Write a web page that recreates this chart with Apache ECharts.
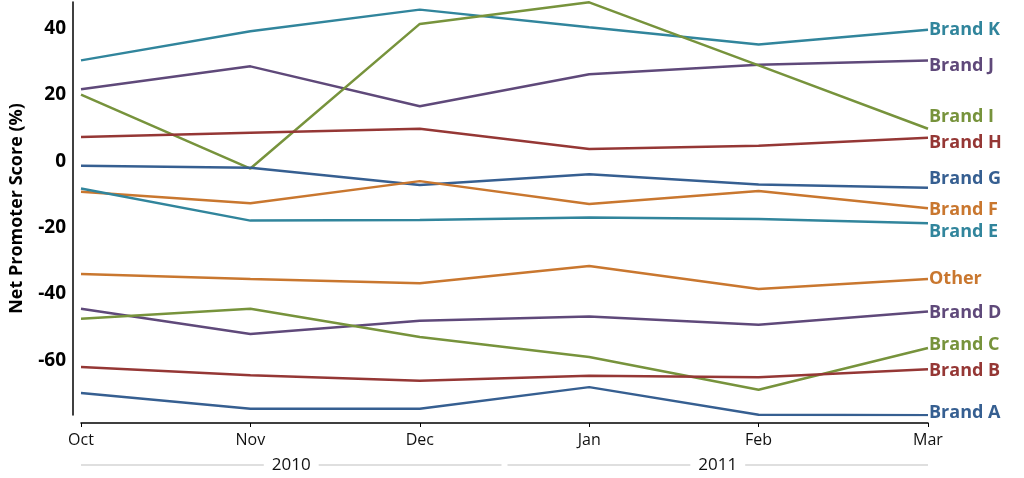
<!DOCTYPE html>
<html>
<head>
<meta charset="utf-8">
<script src="https://cdn.jsdelivr.net/npm/echarts@6/dist/echarts.min.js"></script>
<style>
html,body{margin:0;padding:0;background:#fff;}
#chart{width:1024px;height:478px;}
</style>
</head>
<body>
<div id="chart"></div>
<script>
var months = ['Oct','Nov','Dec','Jan','Feb','Mar'];
var years = ['2010','2011'];
var yearFirstMonth = [0, 3];
var yearLastMonth = [2, 5];
var yTicks = [-60,-40,-20,0,20,40];

var seriesNames = ['Brand K','Brand J','Brand I','Brand H','Brand G','Brand F','Brand E','Other','Brand D','Brand C','Brand B','Brand A'];
var brandK = [30.4, 39.2, 45.7, 40.4, 35.2, 39.6];
var brandJ = [21.7, 28.6, 16.6, 26.2, 29.1, 30.4];
var brandI = [20.1, -2.2, 41.4, 47.9, 28.9, 9.8];
var brandH = [7.3, 8.6, 9.8, 3.7, 4.7, 7.1];
var brandG = [-1.4, -2.0, -7.2, -3.9, -7.0, -8.0];
var brandF = [-9.2, -12.7, -6.0, -12.9, -9.0, -14.2];
var brandE = [-8.2, -17.9, -17.7, -17.0, -17.4, -18.7];
var other  = [-34.0, -35.5, -36.8, -31.6, -38.5, -35.5];
var brandD = [-44.5, -52.1, -48.1, -46.8, -49.3, -45.3];
var brandC = [-47.5, -44.5, -53.0, -59.0, -68.9, -56.3];
var brandB = [-62.0, -64.5, -66.2, -64.7, -65.1, -62.7];
var brandA = [-69.9, -74.6, -74.6, -68.1, -76.4, -76.6];
var seriesValues = [brandK, brandJ, brandI, brandH, brandG, brandF, brandE, other, brandD, brandC, brandB, brandA];

// styling (kept apart from data)
var seriesColors = ['#31859C','#5F497A','#77933C','#953735','#365F91','#C9772F','#31859C','#C9772F','#5F497A','#77933C','#953735','#365F91'];
var endLabelNudge = [0, 5, -12, 5, -9, 2, 9, 0, 1, -3, 2, -2];

var FONT = '"Open Sans", Lato, sans-serif';
var chart = echarts.init(document.getElementById('chart'));

var series = seriesNames.map(function (n, i) {
  return {
    name: n,
    type: 'line',
    data: seriesValues[i],
    symbol: 'none',
    lineStyle: { color: seriesColors[i], width: 2.5 },
    itemStyle: { color: seriesColors[i] },
    endLabel: {
      show: true,
      formatter: '{a}',
      color: seriesColors[i],
      fontFamily: FONT,
      fontWeight: 'bold',
      fontSize: 18,
      distance: 1,
      offset: [0, endLabelNudge[i]]
    },
    emphasis: { disabled: true },
    animation: false
  };
});

chart.setOption({
  animation: false,
  grid: { left: 81, right: 96, top: 2, bottom: 63, containLabel: false },
  xAxis: {
    type: 'category',
    data: months,
    boundaryGap: false,
    offset: 8,
    axisLine: { onZero: false, lineStyle: { color: '#000', width: 1.5 } },
    axisTick: { show: true, length: 4, lineStyle: { color: '#000' } },
    axisLabel: { color: '#111', fontFamily: FONT, fontSize: 16, margin: 9 },
    splitLine: { show: false }
  },
  yAxis: {
    type: 'value',
    min: -76.5,
    max: 48,
    offset: 8,
    name: 'Net Promoter Score (%)',
    nameLocation: 'middle',
    nameGap: 47,
    nameTextStyle: { color: '#000', fontFamily: FONT, fontWeight: 'bold', fontSize: 18 },
    axisLine: { show: true, onZero: false, lineStyle: { color: '#000', width: 1.5 } },
    axisTick: { show: false },
    axisLabel: { customValues: yTicks, color: '#000', fontFamily: FONT, fontWeight: 'bold', fontSize: 19, margin: 7 },
    splitLine: { show: false }
  },
  series: series
});

var yPix = 465;
var graphics = [];
years.forEach(function (y, i) {
  var x0 = chart.convertToPixel({ xAxisIndex: 0 }, yearFirstMonth[i]);
  var x1 = chart.convertToPixel({ xAxisIndex: 0 }, yearLastMonth[i]);
  var step = chart.convertToPixel({ xAxisIndex: 0 }, 1) - chart.convertToPixel({ xAxisIndex: 0 }, 0);
  var left = i === 0 ? x0 : x0 - step / 2 + 3;
  var right = i === years.length - 1 ? x1 : x1 + step / 2 - 3;
  graphics.push({
    type: 'line',
    shape: { x1: left, y1: yPix, x2: right, y2: yPix },
    style: { stroke: '#BFBFBF', lineWidth: 1 },
    silent: true
  });
  graphics.push({
    type: 'text',
    x: (left + right) / 2,
    y: yPix,
    style: {
      text: y,
      fill: '#111',
      font: '17px ' + FONT,
      align: 'center',
      verticalAlign: 'middle',
      backgroundColor: '#fff',
      padding: [0, 8]
    },
    silent: true
  });
});
chart.setOption({ graphic: graphics });
</script>
</body>
</html>
